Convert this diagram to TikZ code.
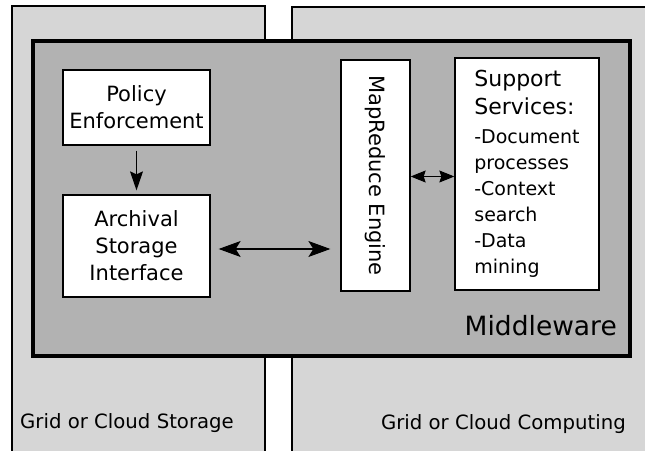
\documentclass[tikz,border=0pt]{standalone}
\usepackage{fontspec}
\setmainfont{DejaVu Sans}
\usetikzlibrary{arrows.meta}

\definecolor{panelgray}{gray}{0.84}
\definecolor{midgray}{gray}{0.70}

\tikzset{
  panel/.style={draw=black, fill=panelgray, line width=1.8pt},
  middle/.style={draw=black, fill=midgray, line width=3.6pt},
  block/.style={draw=black, fill=white, line width=1.3pt, inner sep=0pt,
    align=center, font=\fontsize{21}{27}\selectfont},
  flow/.style={line width=1.1pt}
}
\newcommand{\bigline}[1]{{\fontsize{22}{29}\selectfont #1}}

\begin{document}
\begin{tikzpicture}[x=1pt, y=1pt]
        \useasboundingbox (0,0) rectangle (645,450);
        \clip (0,0) rectangle (645,450);

        % Storage and computing panels
        \draw[panel] (12,-10) rectangle (265,444);
        \draw[panel] (292,-10) rectangle (660,443);
        \node[anchor=base west, inner sep=0pt, font=\fontsize{19.7}{24}\selectfont] (storage) at (20,22) {Grid or Cloud Storage};
        \node[anchor=base east, inner sep=0pt, font=\fontsize{19.7}{24}\selectfont] (computing) at (626,21) {Grid or Cloud Computing};

        % Middleware
        \draw[middle] (33,409) rectangle (630,94);
        \node[anchor=base east, inner sep=0pt, font=\fontsize{26.5}{30}\selectfont] (mw) at (617,114) {Middleware};

        % Blocks
        \node[block, minimum width=147, minimum height=75] (policy) at (136.5,342.5) {Policy\\Enforcement};
        \node[block, minimum width=147, minimum height=102] (arch) at (136.5,204) {Archival\\Storage\\Interface};
        \node[block, minimum width=69, minimum height=231] (mr) at (375.5,274.5) {\rotatebox{-90}{MapReduce Engine}};
        \node[block, align=left, font=\fontsize{19}{26}\selectfont, minimum width=144, minimum height=232] (sup) at (527,276)
          {\bigline{Support}\\[2pt]
           \bigline{Services:}\\[3pt]
           -Document\\processes\\-Context\\search\\-Data\\mining};

        % Connectors
        \draw[flow, -{Stealth[length=19pt, width=13pt, inset=3pt]}, shorten <=5pt, shorten >=4pt] (policy) -- (arch);
        \draw[flow, {Stealth[length=22pt, width=16pt, inset=5pt]}-{Stealth[length=22pt, width=16pt, inset=5pt]},
          shorten <=8pt, shorten >=10pt] ([yshift=-3pt]arch.east) -- ([yshift=-3pt]arch.east -| mr.west);
        \draw[flow, {Stealth[length=15pt, width=12pt, inset=2pt]}-{Stealth[length=15pt, width=12pt, inset=2pt]}]
          ([yshift=-1pt]mr.east) -- ([yshift=-1pt]mr.east -| sup.west);
    \end{tikzpicture}
\end{document}
